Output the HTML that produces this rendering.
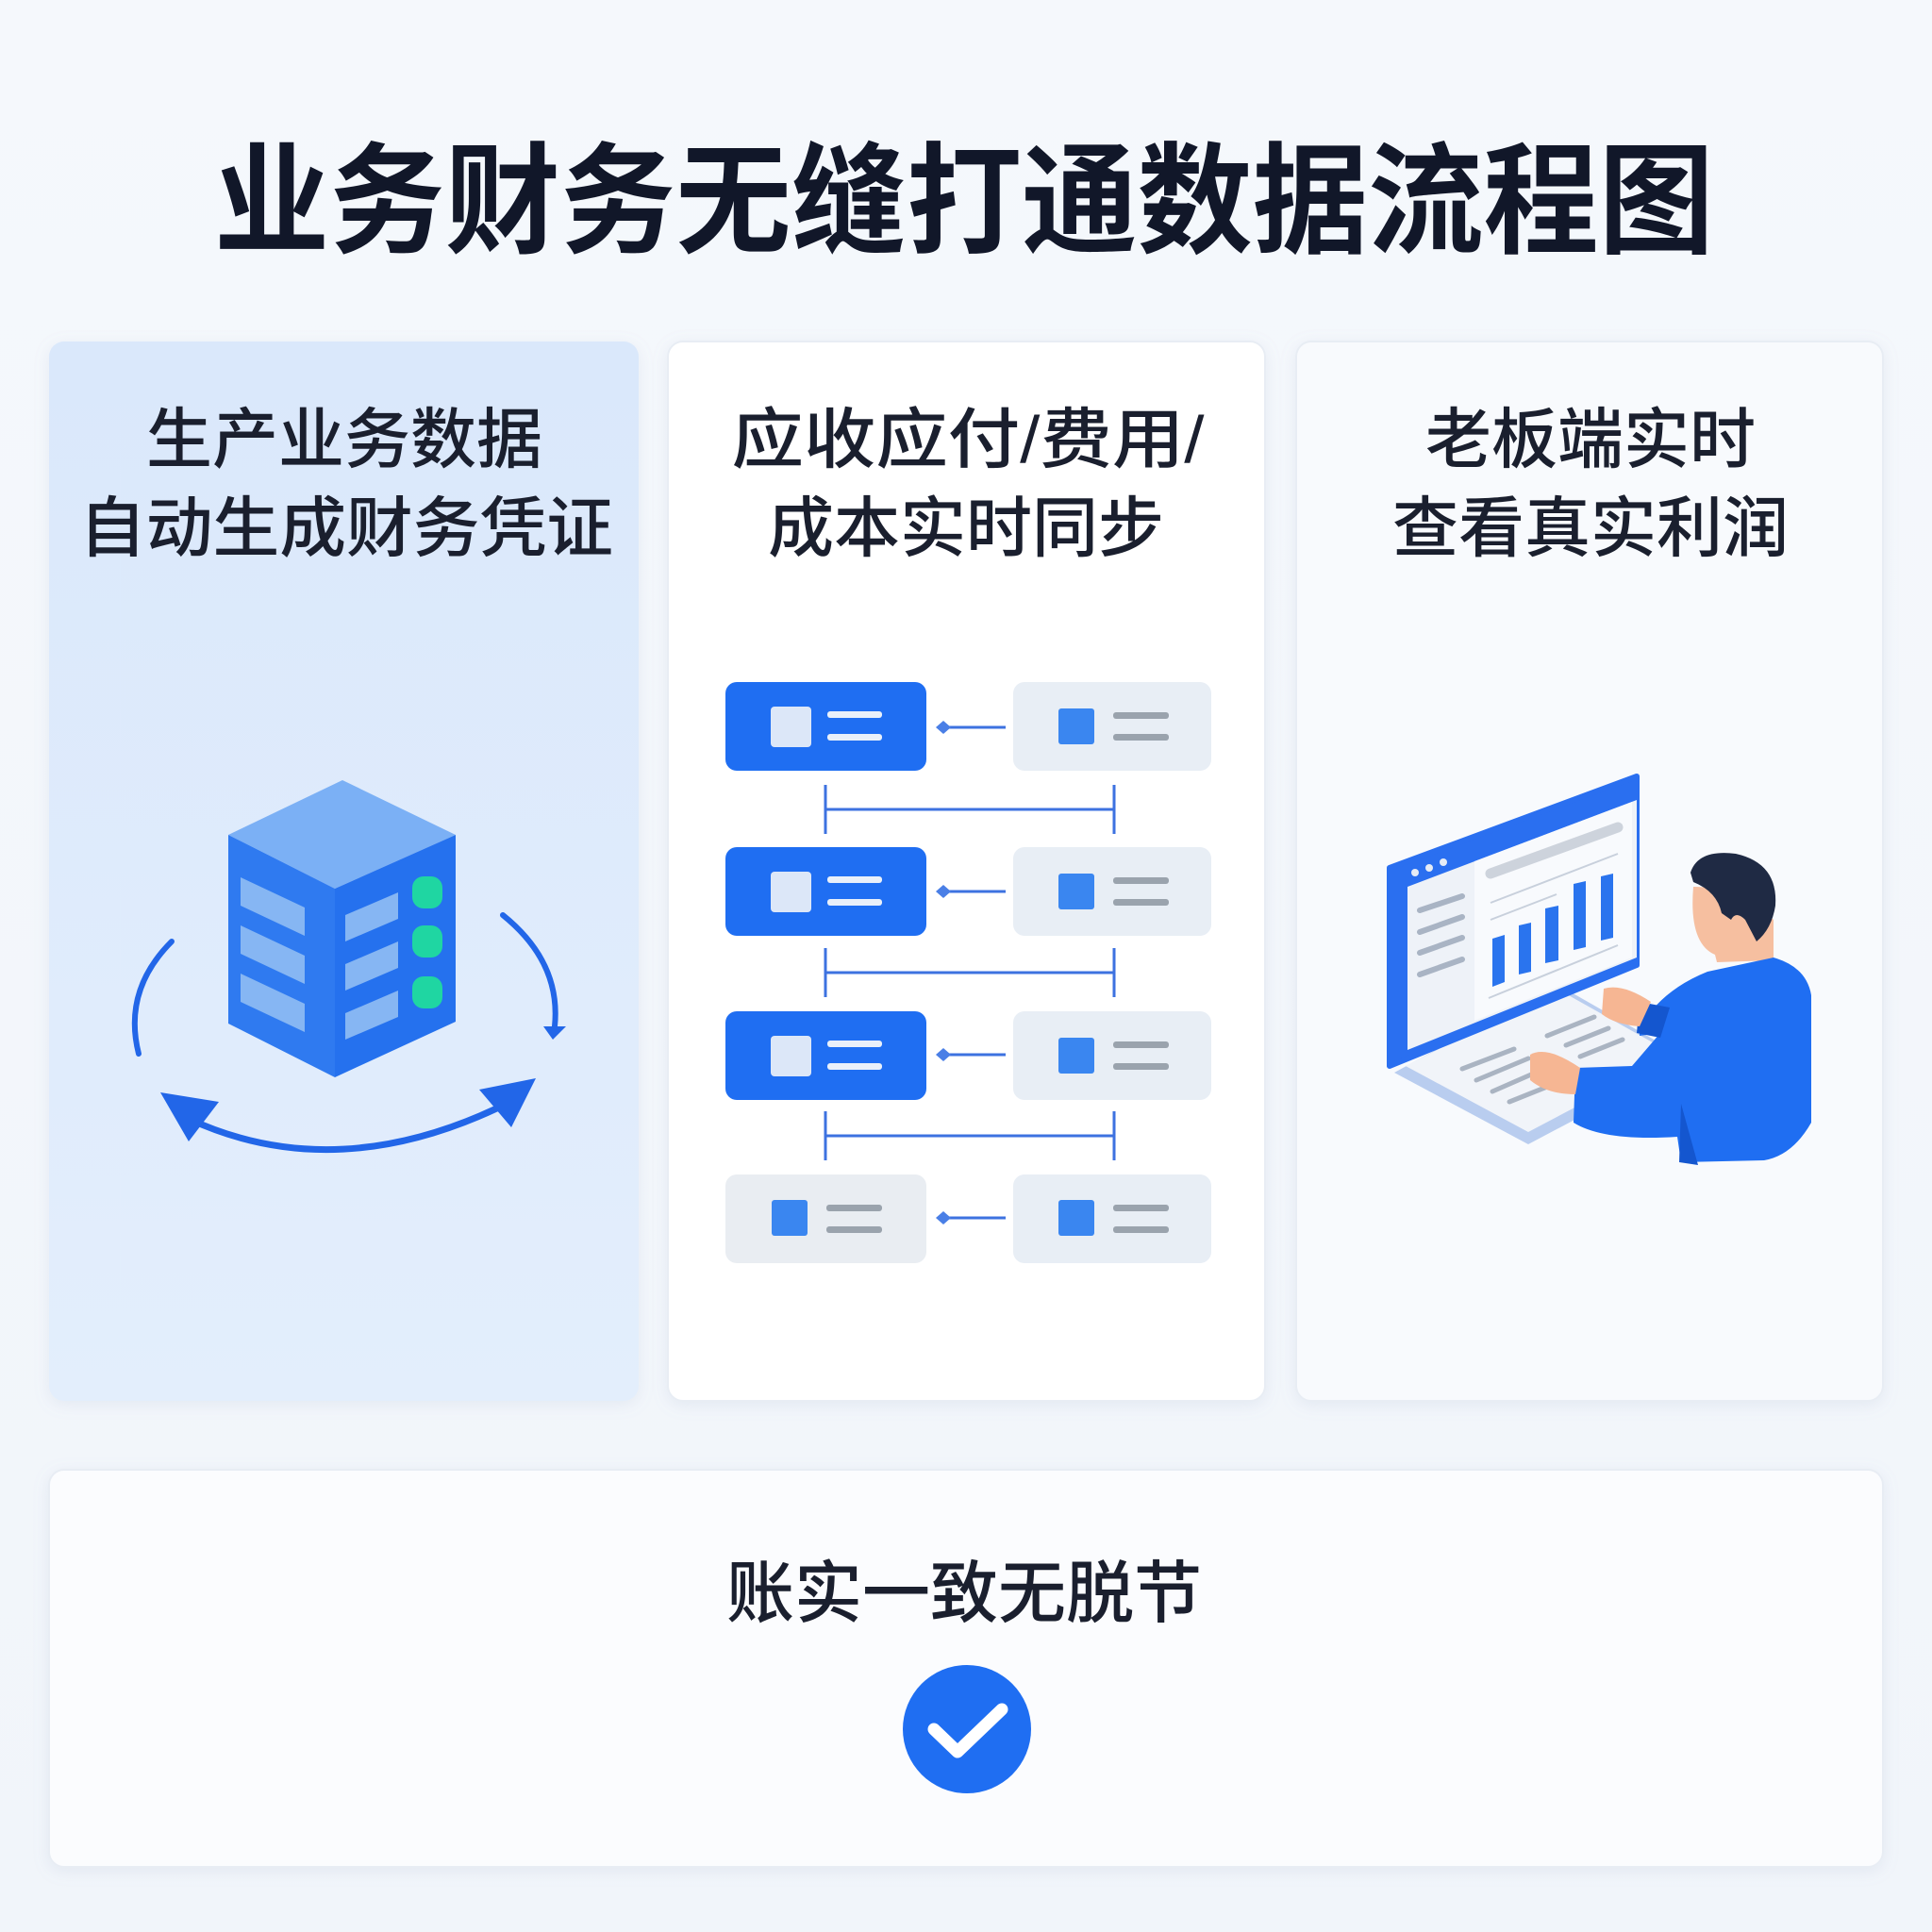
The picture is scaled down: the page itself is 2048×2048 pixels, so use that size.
<!DOCTYPE html>
<html><head><meta charset="utf-8"><style>
html,body{margin:0;padding:0;background:#f3f6fb}
svg{display:block}
text{font-family:"Liberation Sans","Noto Sans CJK SC",sans-serif}
</style></head><body>
<svg width="2048" height="2048" viewBox="0 0 2048 2048" xmlns="http://www.w3.org/2000/svg">
<defs>
<linearGradient id="bg" x1="0" y1="0" x2="0" y2="1"><stop offset="0" stop-color="#f5f8fc"/><stop offset="1" stop-color="#f1f5fa"/></linearGradient>
<linearGradient id="c1" x1="0" y1="0" x2="0" y2="1"><stop offset="0" stop-color="#dae8fb"/><stop offset="1" stop-color="#e3eefc"/></linearGradient>
<filter id="sh" x="-10%" y="-10%" width="120%" height="120%"><feDropShadow dx="0" dy="4" stdDeviation="8" flood-color="#8aa0c0" flood-opacity="0.15"/></filter>
</defs>
<rect width="2048" height="2048" fill="url(#bg)"/>
<text x="1022" y="258" font-size="128" font-weight="700" fill="#111729" text-anchor="middle" textLength="1590" lengthAdjust="spacingAndGlyphs">业务财务无缝打通数据流程图</text>

<rect x="52" y="362" width="625" height="1123" rx="16" fill="url(#c1)" filter="url(#sh)"/>
<rect x="708" y="362" width="633" height="1123" rx="16" fill="#ffffff" stroke="#e8edf4" stroke-width="2" filter="url(#sh)"/>
<rect x="1374" y="362" width="622" height="1123" rx="16" fill="#f8fafd" stroke="#e8edf4" stroke-width="2" filter="url(#sh)"/>
<rect x="52" y="1558" width="1944" height="421" rx="16" fill="#fbfcfe" stroke="#e8edf4" stroke-width="2" filter="url(#sh)"/>

<g font-size="70" font-weight="500" fill="#1a1f2e" text-anchor="middle">
<text x="365" y="490">生产业务数据</text>
<text x="367" y="584" textLength="566" lengthAdjust="spacingAndGlyphs">自动生成财务凭证</text>
<text x="1026" y="490" textLength="501" lengthAdjust="spacingAndGlyphs">应收应付/费用/</text>
<text x="1024" y="584">成本实时同步</text>
<text x="1686" y="490">老板端实时</text>
<text x="1686" y="584">查看真实利润</text>
<text x="1022" y="1714" font-size="72">账实一致无脱节</text>
</g>

<!-- card1 illustration -->
<g>
<polygon points="363,827 483,885 355,942 242,885" fill="#7bb0f5"/>
<polygon points="242,885 355,942 355,1142 242,1085" fill="#2f7af0"/>
<polygon points="355,942 483,885 483,1083 355,1142" fill="#2571ee"/>
<g fill="#86b6f3">
<polygon points="255,930 323,962 323,992 255,960"/>
<polygon points="255,981 323,1013 323,1043 255,1011"/>
<polygon points="255,1032 323,1064 323,1094 255,1062"/>
<polygon points="366,970 422,946 422,974 366,998"/>
<polygon points="366,1022 422,998 422,1026 366,1050"/>
<polygon points="366,1074 422,1050 422,1078 366,1102"/>
</g>
<g fill="#1fd6a2"><rect x="437" y="929" width="32" height="34" rx="12"/><rect x="437" y="981" width="32" height="34" rx="12"/><rect x="437" y="1035" width="32" height="34" rx="12"/></g>
<g stroke="#2266e8" stroke-width="6" fill="none" stroke-linecap="round">
<path d="M182,998 Q130,1050 147,1117"/>
<path d="M533,970 Q595,1020 588,1088"/>
<path d="M200,1186 Q360,1260 545,1166" stroke-width="7"/>
</g>
<g fill="#2266e8">
<polygon points="576,1088 600,1088 586,1102"/>
<polygon points="170,1158 232,1168 200,1210"/>
<polygon points="568,1143 508,1155 542,1195"/>
</g>
</g>

<!-- card2 diagram -->
<g>
<g fill="#1f6ef2"><rect x="769" y="723" width="213" height="94" rx="12"/><rect x="769" y="898" width="213" height="94" rx="12"/><rect x="769" y="1072" width="213" height="94" rx="12"/></g>
<rect x="769" y="1245" width="213" height="94" rx="12" fill="#e9edf2"/>
<g fill="#e8eef5"><rect x="1074" y="723" width="210" height="94" rx="12"/><rect x="1074" y="898" width="210" height="94" rx="12"/><rect x="1074" y="1072" width="210" height="94" rx="12"/><rect x="1074" y="1245" width="210" height="94" rx="12"/></g>
<g fill="#dce7f8"><rect x="817" y="749" width="43" height="43" rx="4"/><rect x="817" y="924" width="43" height="43" rx="4"/><rect x="817" y="1098" width="43" height="43" rx="4"/></g>
<g fill="#e9f0fa"><rect x="877" y="754" width="58" height="7" rx="3"/><rect x="877" y="778" width="58" height="7" rx="3"/><rect x="877" y="929" width="58" height="7" rx="3"/><rect x="877" y="953" width="58" height="7" rx="3"/><rect x="877" y="1103" width="58" height="7" rx="3"/><rect x="877" y="1127" width="58" height="7" rx="3"/></g>
<g fill="#3a86f0"><rect x="818" y="1272" width="38" height="38" rx="3"/><rect x="1122" y="751" width="38" height="38" rx="3"/><rect x="1122" y="926" width="38" height="38" rx="3"/><rect x="1122" y="1100" width="38" height="38" rx="3"/><rect x="1122" y="1272" width="38" height="38" rx="3"/></g>
<g fill="#9aa3ad"><rect x="876" y="1277" width="59" height="7" rx="3"/><rect x="876" y="1300" width="59" height="7" rx="3"/>
<rect x="1180" y="755" width="59" height="7" rx="3"/><rect x="1180" y="778" width="59" height="7" rx="3"/>
<rect x="1180" y="930" width="59" height="7" rx="3"/><rect x="1180" y="953" width="59" height="7" rx="3"/>
<rect x="1180" y="1104" width="59" height="7" rx="3"/><rect x="1180" y="1127" width="59" height="7" rx="3"/>
<rect x="1180" y="1277" width="59" height="7" rx="3"/><rect x="1180" y="1300" width="59" height="7" rx="3"/></g>
<g stroke="#3d72e0" stroke-width="3" fill="none">
<path d="M998,771 H1066 M998,945 H1066 M998,1118 H1066 M998,1291 H1066"/>
<path d="M875,832 V884 M1181,832 V884 M875,858 H1181"/>
<path d="M875,1005 V1057 M1181,1005 V1057 M875,1031 H1181"/>
<path d="M875,1178 V1230 M1181,1178 V1230 M875,1204 H1181"/>
</g>
<g fill="#4a7fe6"><polygon points="992,771 1000,764 1008,771 1000,778"/><polygon points="992,945 1000,938 1008,945 1000,952"/><polygon points="992,1118 1000,1111 1008,1118 1000,1125"/><polygon points="992,1291 1000,1284 1008,1291 1000,1298"/></g>
</g>

<!-- card3 illustration -->
<g>
<polygon points="1478,1137 1620,1213 1790,1123 1650,1043" fill="#b9cdef"/>
<polygon points="1490,1130 1620,1200 1775,1118 1650,1048" fill="#f1f4f9"/>
<g stroke="#aab4c2" stroke-width="5" stroke-linecap="round"><path d="M1550,1133 L1605,1112 M1565,1145 L1620,1122 M1582,1157 L1630,1136 M1600,1168 L1645,1150 M1640,1098 L1690,1078 M1660,1108 L1705,1090 M1675,1120 L1720,1102"/></g>
<polygon points="1473,920 1735,823 1735,1023 1473,1130" fill="#2a6ff0" stroke="#2a6ff0" stroke-width="6" stroke-linejoin="round"/>
<polygon points="1492,940 1735,848 1735,1015 1492,1113" fill="#eef2f8"/>
<polygon points="1563,913 1730,850 1730,1015 1563,1082" fill="#f8fafd"/>
<g fill="#e6ecf5"><circle cx="1500" cy="925" r="4"/><circle cx="1515" cy="920" r="4"/><circle cx="1530" cy="914" r="4"/></g>
<g stroke="#a9b4c4" stroke-width="6" stroke-linecap="round"><path d="M1505,965 L1550,950 M1505,988 L1550,972 M1505,1010 L1550,994 M1505,1033 L1550,1017"/></g>
<path d="M1580,926 L1715,877" stroke="#cdd3dc" stroke-width="11" stroke-linecap="round"/>
<path d="M1580,957 L1715,905 M1580,975 L1650,948 M1578,1058 L1715,1002" stroke="#c8d0dc" stroke-width="2"/>
<g fill="#2a74ee"><polygon points="1582,995 1595,991 1595,1041 1582,1046"/><polygon points="1610,981 1623,978 1623,1030 1610,1033"/><polygon points="1638,963 1652,960 1652,1018 1638,1021"/><polygon points="1668,937 1681,934 1681,1004 1668,1007"/><polygon points="1697,929 1710,926 1710,994 1697,997"/></g>
<!-- person -->
<path d="M1795,940 Q1790,1000 1818,1012 L1820,1020 L1880,1018 L1880,975 Q1840,940 1795,940Z" fill="#f6bfa0"/>
<path d="M1792,925 Q1800,900 1840,905 Q1885,915 1882,960 Q1878,985 1862,998 L1850,975 Q1840,965 1835,975 L1825,968 Q1820,945 1795,935Z" fill="#1f2a44"/>
<path d="M1810,1030 L1880,1015 Q1915,1025 1920,1055 L1920,1190 Q1900,1225 1870,1230 L1782,1232 L1778,1205 Q1700,1210 1668,1190 L1670,1132 L1730,1130 L1760,1095 L1738,1098 L1738,1090 Q1760,1050 1810,1030Z" fill="#1f6ef2"/>
<path d="M1780,1232 L1782,1170 L1800,1235Z" fill="#1456cf"/>
<path d="M1738,1062 L1770,1068 L1760,1100 L1735,1095Z" fill="#1456cf"/>
<path d="M1700,1048 Q1720,1042 1750,1062 L1738,1088 Q1712,1086 1698,1075Z" fill="#f6b693"/>
<path d="M1622,1118 Q1640,1108 1675,1132 L1670,1160 Q1640,1160 1622,1145Z" fill="#f6b693"/>
</g>

<!-- check -->
<circle cx="1025" cy="1833" r="68" fill="#1f6ef2"/>
<path d="M990,1833 L1015,1857 L1062,1812" stroke="#fff" stroke-width="13" fill="none" stroke-linecap="round" stroke-linejoin="round"/>
</svg>
</body></html>
